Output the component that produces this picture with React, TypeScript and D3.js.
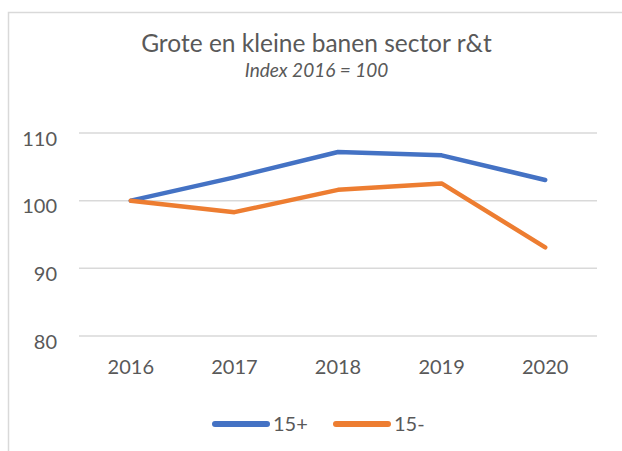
import * as d3 from 'd3'

const years = ['2016', '2017', '2018', '2019', '2020']
const groot = [100, 103.45, 107.2, 106.7, 103.05]
const klein = [100, 98.3, 101.6, 102.55, 93.1]
const yTicks = [80, 90, 100, 110]
const seriesNames = ['15+', '15-']
const seriesColors = ['#4472C4', '#ED7D31']

export default function App() {
  const width = 622,
    height = 451
  const font = 'Lato, "Open Sans", sans-serif'
  const textColor = '#595959'

  // plot area, as Excel lays it out
  const x = d3.scaleBand().domain(years).range([79, 597])
  const y = d3.scaleLinear().domain([80, 110]).range([336, 133])

  const line = d3
    .line<number>()
    .x((_, i) => (x(years[i]) as number) + x.bandwidth() / 2)
    .y(d => y(d))

  const series = [groot, klein]

  return (
    <svg width={width} height={height} style={{ position: 'absolute', left: 0, top: 0, fontFamily: font }}>
      <rect x={0} y={0} width={width} height={height} fill='white' />
      {/* chart border */}
      <rect x={8.5} y={12.5} width={width + 10} height={height + 10} fill='none' stroke='#d9d9d9' strokeWidth={1.5} />

      <text x={316.5} y={52} textAnchor='middle' fontSize={24.5} fill={textColor}>
        Grote en kleine banen sector r&amp;t
      </text>
      <text x={316.5} y={77} textAnchor='middle' fontSize={19} fontStyle='italic' fill={textColor}>
        Index 2016 = 100
      </text>

      {yTicks.map(t => (
        <g key={t}>
          <line x1={x.range()[0]} x2={x.range()[1]} y1={y(t)} y2={y(t)} stroke='#d9d9d9' strokeWidth={1.5} />
          <text x={57} y={y(t) + 12.5} textAnchor='end' fontSize={20} fill={textColor}>
            {t}
          </text>
        </g>
      ))}

      {years.map(yr => (
        <text key={yr} x={(x(yr) as number) + x.bandwidth() / 2} y={374} textAnchor='middle' fontSize={20} fill={textColor}>
          {yr}
        </text>
      ))}

      {series.map((s, i) => (
        <path
          key={i}
          d={line(s) as string}
          fill='none'
          stroke={seriesColors[i]}
          strokeWidth={4.5}
          strokeLinecap='round'
          strokeLinejoin='round'
        />
      ))}

      {/* legend */}
      {seriesNames.map((n, i) => {
        const lx = 215 + i * 121
        return (
          <g key={n}>
            <line x1={lx} x2={lx + 52} y1={424} y2={424} stroke={seriesColors[i]} strokeWidth={6} strokeLinecap='round' />
            <text x={lx + 58} y={431} fontSize={20} fill={textColor}>
              {n}
            </text>
          </g>
        )
      })}
    </svg>
  )
}
